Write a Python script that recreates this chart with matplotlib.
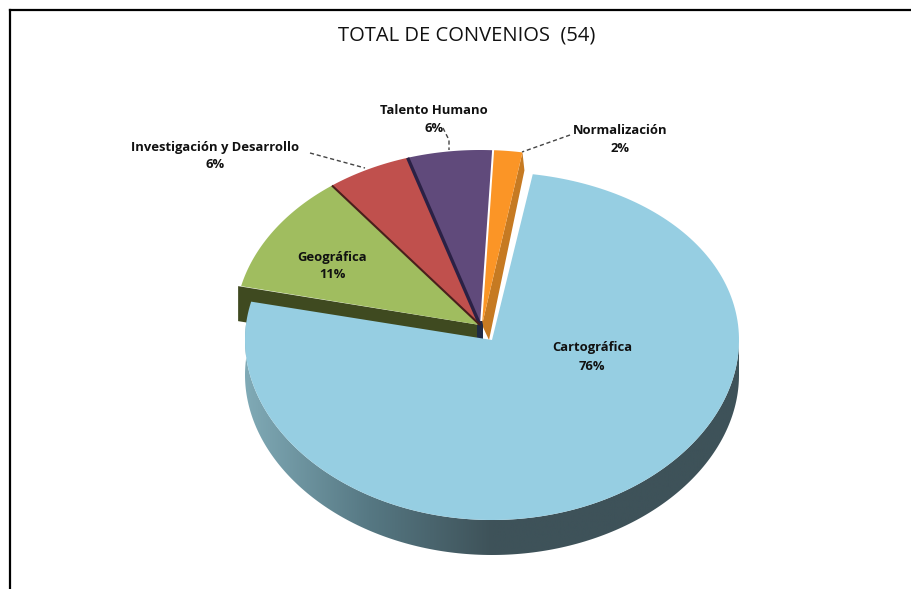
import numpy as np
import matplotlib
matplotlib.use('Agg')
import matplotlib.pyplot as plt
from matplotlib.colors import LinearSegmentedColormap
from matplotlib.patches import Polygon

title = 'TOTAL DE CONVENIOS  (54)'
categories = ['Cartográfica', 'Geográfica', 'Investigación y Desarrollo', 'Talento Humano', 'Normalización']
convenios = [41, 6, 3, 3, 1]

top_colors = ['#96CEE2', '#A0BD5F', '#C0504D', '#604A7B', '#FB9526']
wall_colors = ['#3E5259', '#3F4A20', '#4A1F1C', '#2B2145', '#C67A22']

# pie geometry, in pixels of the 911x589 picture
START_DEG = 9.5
BLUE = dict(cx=492, cy=340, rx=247, ry_mid=174, ry_skew=6)
REST = dict(cx=480, cy=325, rx=245, ry_mid=175, ry_skew=0)
ORANGE_DX = 2
WALL = 35

label_xy = [(592, 348), (332, 257), (215, 147), (434, 110), (620, 131)]
leaders = {2: [(310, 153), (365, 168)], 3: [(443, 128), (449, 140), (449, 150)], 4: [(570, 135), (522, 152)]}

fig = plt.figure(figsize=(9.11, 5.89), dpi=100)
ax = fig.add_axes([0, 0, 1, 1])
ax.axis('off')


def rim(theta_deg, cx, cy, rx, ry_mid, ry_skew):
    t = np.radians(theta_deg)
    ry = ry_mid - ry_skew * np.cos(t)
    return cx + rx * np.sin(t), cy - ry * np.cos(t)


shares = np.array(convenios) / sum(convenios) * 360
starts = START_DEG + np.concatenate([[0], np.cumsum(shares)[:-1]])

# outer wall of the big slice, shaded left to right
blue_end = starts[0] + shares[0]
th = np.linspace(90, blue_end, 200)
xs, ys = rim(th, **BLUE)
wall_pts = np.r_[np.c_[xs, ys], np.c_[xs, ys + WALL][::-1]]
cmap = LinearSegmentedColormap.from_list('wall', ['#80AAB6', '#567883', '#3E5259', '#3E5259', '#3E5259'])
grad = ax.imshow(np.linspace(0, 1, 256)[None, :], extent=(245, 739, 600, 300), cmap=cmap, aspect='auto', zorder=1)
grad.set_clip_path(Polygon(wall_pts, transform=ax.transData))

# green cut face, the blue top covers most of it
th = starts[1]
x0, y0 = rim(th, **REST)
ax.add_patch(Polygon([(x0 - 3, y0), (REST['cx'], REST['cy']), (REST['cx'], REST['cy'] + WALL), (x0 - 3, y0 + WALL)],
                     fc=wall_colors[1], ec='none', zorder=2))

# orange cut face
th = starts[4] + shares[4]
x0, y0 = rim(th, **REST)
ax.add_patch(Polygon([(x0 + ORANGE_DX, y0), (x0 + ORANGE_DX + 2, y0 + 18), (REST['cx'] + 9, REST['cy'] + 15),
                      (REST['cx'] + ORANGE_DX, REST['cy'])], fc=wall_colors[4], ec='none', zorder=2))
ax.add_patch(Polygon([(REST['cx'] - 3, REST['cy'] - 4), (REST['cx'] + 3, REST['cy'] - 4),
                      (REST['cx'] + 3, REST['cy'] + 15), (REST['cx'] - 3, REST['cy'] + 15)],
                     fc='#1F2A45', ec='none', zorder=2))

# top faces
for i in range(len(convenios) - 1, -1, -1):
    geo = BLUE if i == 0 else dict(REST)
    if i == 4:
        geo['cx'] += ORANGE_DX
    th = np.linspace(starts[i], starts[i] + shares[i], 200)
    xs, ys = rim(th, **geo)
    pts = np.r_[[(geo['cx'], geo['cy'])], np.c_[xs, ys]]
    ax.add_patch(Polygon(pts, fc=top_colors[i], ec='none', zorder=5 if i == 0 else 3))
    if i in (2, 3):
        # dark cut edge on the left of red and purple
        ax.plot([geo['cx'], xs[0]], [geo['cy'], ys[0]], color=wall_colors[i], lw=2.4 if i == 3 else 1.5,
                solid_capstyle='butt', zorder=4)

# frame of the pasted chart
ax.plot([10, 10], [589, 10], color='black', lw=1.6, zorder=6, solid_joinstyle='miter')
ax.plot([10, 911], [10, 10], color='black', lw=1.6, zorder=6)

ax.text(467, 36, title, ha='center', va='center', fontsize=14.5, family='Open Sans', color='#111111', zorder=7)

total = sum(convenios)
for i, (name, v) in enumerate(zip(categories, convenios)):
    x, y = label_xy[i]
    ax.text(x, y, name, ha='center', va='center', fontsize=9.4, fontweight='bold',
            family='Open Sans', color='#111111', zorder=7)
    ax.text(x, y + 18, f'{v / total:.0%}', ha='center', va='center', fontsize=9.4, fontweight='bold',
            family='Open Sans', color='#111111', zorder=7)
    if i in leaders:
        lx, ly = zip(*leaders[i])
        ax.plot(lx, ly, color='#444444', lw=1.0, ls=(0, (3, 2)), zorder=7)

ax.set_xlim(0, 911)
ax.set_ylim(589, 0)
fig.savefig('out.png', dpi=100)
